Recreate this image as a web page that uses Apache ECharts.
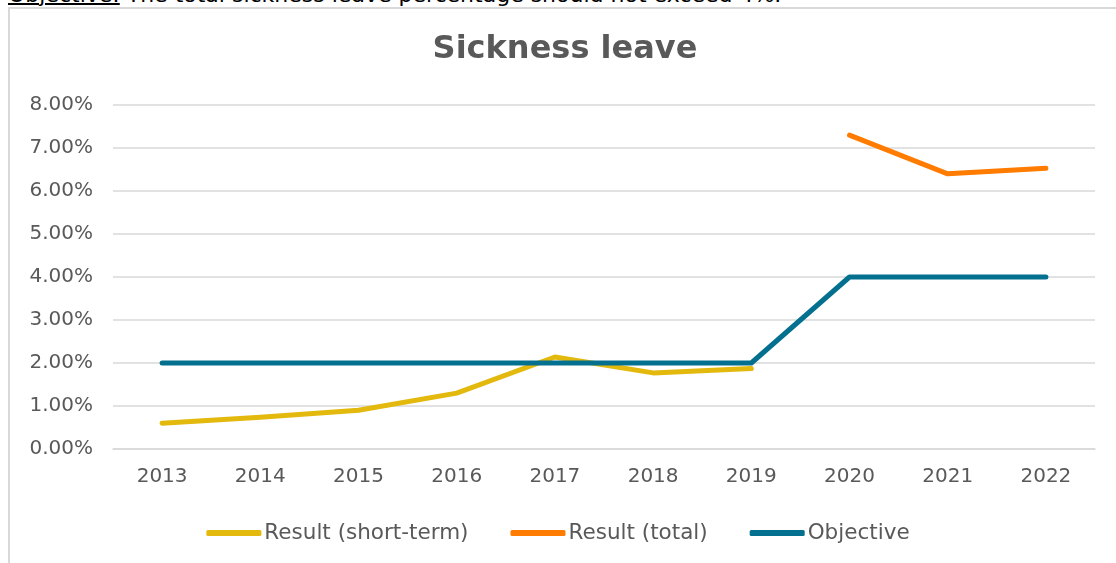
<!DOCTYPE html>
<html>
<head>
<meta charset="utf-8">
<script src="https://cdn.jsdelivr.net/npm/echarts@6/dist/echarts.min.js"></script>
<style>
    html, body { margin: 0; padding: 0; background: #fff; overflow: hidden; }
    #note {
        position: absolute; left: 8px; top: -18px; white-space: nowrap;
        font-family: 'DejaVu Sans', sans-serif; font-size: 22px; color: #000;
    }
    #note u { text-decoration-thickness: 2px; }
    #frame {
        position: absolute; left: 8px; top: 7px; width: 1200px; height: 600px;
        border-left: 2px solid #d9d9d9; border-top: 2px solid #d9d9d9;
    }
    #main { position: absolute; left: 0; top: 0; width: 1116px; height: 563px; }
</style>
</head>
<body>
<div id="note"><u>Objective:</u> The total sickness leave percentage should not exceed 4%.</div>
<div id="frame"></div>
<div id="main"></div>
<script>
var years = ['2013', '2014', '2015', '2016', '2017', '2018', '2019', '2020', '2021', '2022'];
// percentages
var shortTerm = [0.60, 0.74, 0.90, 1.30, 2.14, 1.77, 1.87, null, null, null];
var total = [null, null, null, null, null, null, null, 7.30, 6.40, 6.53];
var objective = [2, 2, 2, 2, 2, 2, 2, 4, 4, 4];

var textColor = '#595959';
var font = 'DejaVu Sans';

var myChart = echarts.init(document.getElementById('main'));

function lineSeries(name, data, color) {
    return {
        name: name,
        type: 'line',
        data: data,
        symbol: 'none',
        connectNulls: false,
        lineStyle: { width: 5, color: color, cap: 'round', join: 'round' },
        itemStyle: { color: color }
    };
}

var option = {
    animation: false,
    title: {
        text: 'Sickness leave',
        left: 560,
        textAlign: 'center',
        top: 29,
        textStyle: { fontFamily: font, fontSize: 32, fontWeight: 'bold', color: textColor }
    },
    legend: {
        bottom: 14,
        left: 'center',
        icon: 'roundRect',
        itemWidth: 55,
        itemHeight: 6,
        itemGap: 42,
        textStyle: { fontFamily: font, fontSize: 21.5, color: textColor, padding: [0, 0, 0, -2] },
        data: ['Result (short-term)', 'Result (total)', 'Objective']
    },
    grid: {
        left: 113,
        right: 21,
        top: 105,
        bottom: 114,
        containLabel: false
    },
    xAxis: {
        type: 'category',
        boundaryGap: true,
        data: years,
        axisLine: { show: true, lineStyle: { color: '#d9d9d9', width: 1.5 } },
        axisTick: { show: false },
        axisLabel: { fontFamily: font, fontSize: 20, color: textColor, margin: 18 }
    },
    yAxis: {
        type: 'value',
        min: 0,
        max: 8,
        interval: 1,
        axisLine: { show: false },
        axisTick: { show: false },
        splitLine: { lineStyle: { color: '#d9d9d9', width: 1.5 } },
        axisLabel: {
            fontFamily: font, fontSize: 20, color: textColor, margin: 20,
            formatter: function (v) { return v.toFixed(2) + '%'; }
        }
    },
    series: [
        lineSeries('Result (short-term)', shortTerm, '#e3b90d'),
        lineSeries('Result (total)', total, '#ff7c00'),
        lineSeries('Objective', objective, '#04708f')
    ]
};
myChart.setOption(option, true);
</script>
</body>
</html>
